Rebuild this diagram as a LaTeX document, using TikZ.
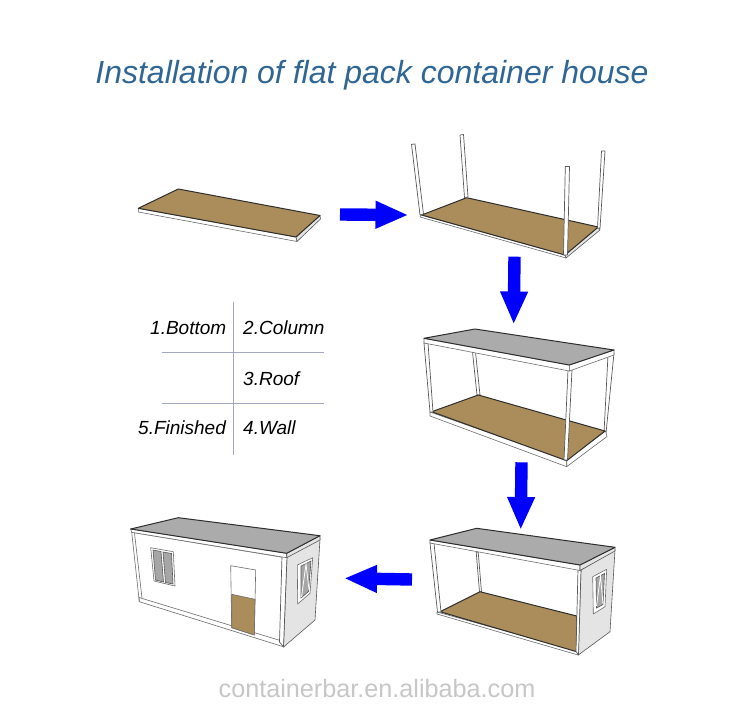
\documentclass[tikz,border=0pt]{standalone}
\usepackage{fontspec}
\setmainfont{Liberation Sans}
\usepackage{xcolor}
\usetikzlibrary{arrows.meta}
\definecolor{woodcol}{HTML}{AB8D5B}
\definecolor{roofcol}{HTML}{ABABAB}
\definecolor{sidecol}{HTML}{E4E4E4}
\definecolor{edgecol}{HTML}{2E2E2E}
\definecolor{gridcol}{HTML}{A3A8C0}
\definecolor{titlecol}{HTML}{2F6695}
\begin{document}
\begin{tikzpicture}[x=1pt, y=-1pt,
  wood/.style={fill=woodcol, draw=edgecol, line width=1pt, line join=round},
  roof/.style={fill=roofcol, draw=edgecol, line width=1pt, line join=round},
  frame/.style={fill=white, draw=edgecol!70, line width=.6pt, line join=round},
  side/.style={fill=sidecol, draw=edgecol!80, line width=.6pt, line join=round},
  post/.style={fill=white, draw=edgecol!80, line width=.7pt, line join=round},
  glass/.style={fill=gray!70, draw=edgecol!80, line width=.6pt},
  gridline/.style={draw=gridcol, line width=1.2pt},
  bigarrow/.style={draw=blue, line width=12.4pt, -{Triangle[length=33pt, width=25.5pt, fill=blue]}},
  legend/.style={anchor=base west, font=\fontsize{19}{22}\selectfont\itshape, text=black, inner sep=0pt}]
\useasboundingbox (0,0) rectangle (750,706);
\fill[white] (0,0) rectangle (750,706);
\node[anchor=base, font=\fontsize{32}{36}\selectfont\itshape, text=titlecol, inner sep=0pt] (title) at (372,84) {Installation of flat pack container house};
\node[anchor=base, font=\fontsize{25.2}{28}\selectfont, text=black!22, inner sep=0pt] (site) at (377,697) {containerbar.en.alibaba.com};

% bottom panel
\draw[frame] (138.3,208.3) -- (138.3,212) -- (297,241.5) -- (296,237) -- cycle;
\draw[side] (296,237) -- (297,241.5) -- (320.5,219) -- (320,215.5) -- cycle;
\draw[wood] (178.3,189) -- (320,215.5) -- (296,237) -- (138.3,208.3) -- cycle;

% panel with columns
\draw[frame] (421,215) -- (420,217) -- (566,258) -- (565,255) -- cycle;
\draw[side] (565,255) -- (566,258) -- (600,230) -- (598.3,227) -- cycle;
\draw[wood] (466.7,197.7) -- (598.3,227) -- (565,255) -- (421.7,215) -- cycle;
\draw[post] (411.5,144.3) -- (415,144) -- (423.5,214) -- (420,215) -- cycle;
\draw[post] (460,135) -- (463.5,134.5) -- (468,197) -- (464.5,197.5) -- cycle;
\draw[post] (565.3,166.5) -- (569.5,166.5) -- (567.5,255) -- (563.5,255) -- cycle;
\draw[post] (601.5,151) -- (605,151) -- (600,228.5) -- (597.5,228) -- cycle;

% frame with roof
\draw[post] (472.5,352) -- (475.5,352) -- (480,395) -- (477,395) -- cycle;
\draw[post] (608,355) -- (614,353) -- (606,433) -- (604,433) -- cycle;
\draw[frame] (430,412) -- (430,416) -- (566.7,466.7) -- (566.7,460) -- cycle;
\draw[frame] (566.7,460) -- (566.7,466.7) -- (607,436.5) -- (605.5,431) -- cycle;
\draw[wood] (478.3,395) -- (605,431) -- (566.7,460.7) -- (431.7,411.7) -- cycle;
\draw[post] (424,343) -- (428,343) -- (433,412) -- (430,412) -- cycle;
\draw[post] (568,370) -- (572,370) -- (567.5,460) -- (564,460) -- cycle;
\draw[frame] (424,338.3) -- (424,343) -- (569.3,371) -- (569.3,365) -- cycle;
\draw[frame] (569.3,365) -- (569.3,371) -- (614,355) -- (614,350) -- cycle;
\draw[roof] (475,329) -- (614,350) -- (569.3,365) -- (424,338.3) -- cycle;

% frame with side wall
\draw[post] (476.2,552) -- (478.2,552) -- (481.5,592) -- (479.5,592) -- cycle;
\draw[frame] (437,612) -- (437,614) -- (578,655) -- (578,651) -- cycle;
\draw[wood] (480,591.7) -- (576.7,616) -- (576.7,651.7) -- (440,611.7) -- cycle;
\draw[post] (430,543) -- (434,543) -- (441,612) -- (437.5,612) -- cycle;
\draw[side] (581,570) -- (615,550) -- (610,631.7) -- (578.3,655) -- cycle;
\draw[post] (578,569) -- (581,569) -- (578.5,655) -- (576,651.5) -- cycle;
\draw[frame] (430,540) -- (430,543) -- (580,570.5) -- (580,565) -- cycle;
\draw[side] (580,565) -- (580,570.5) -- (615,551) -- (615,547.3) -- cycle;
\draw[roof] (476.7,528.3) -- (615,547.3) -- (580,565) -- (430,540) -- cycle;
\draw[frame] (592.7,576.7) -- (606.7,569.3) -- (605,606.7) -- (593.3,614) -- cycle;
\draw[glass] (596,578) -- (604.5,573.5) -- (603,604.5) -- (596.5,608) -- cycle;
\draw[white, line width=.8pt] (596.5,606) -- (600.5,576) -- (603,604);

% finished house
\draw[frame] (131.7,532.3) -- (285,557.7) -- (283.3,646.7) -- (139.3,601.7) -- cycle;
\draw[edgecol!70, line width=.6pt] (139.3,601.7) -- (139,597.5) -- (283.5,641.5);
\draw[edgecol!70, line width=.6pt] (134.5,533) -- (142,598);
\draw[side] (287,556) -- (320,539) -- (315,620) -- (283.5,647) -- cycle;
\draw[post] (282,556) -- (287,556) -- (283.5,647) -- (279.5,642) -- cycle;
\draw[frame] (130.7,529) -- (131.7,532.3) -- (286.7,557.7) -- (286.7,553.3) -- cycle;
\draw[side] (286.7,553.3) -- (286.7,557.7) -- (320,540) -- (320,535.7) -- cycle;
\draw[roof] (178.3,517.7) -- (320,535.7) -- (286.7,553.3) -- (130.7,529) -- cycle;
\draw[frame] (150.7,547.7) -- (173.3,551.7) -- (175,586) -- (154,581) -- cycle;
\draw[glass] (153,550) -- (161,551.5) -- (163.5,582) -- (155.5,580) -- cycle;
\draw[glass] (163,552) -- (171.5,553.5) -- (173,584) -- (165.5,582.5) -- cycle;
\draw[frame] (230.7,565.7) -- (255.7,570) -- (254.3,635) -- (231.7,627.7) -- cycle;
\draw[wood, draw=edgecol!70, line width=.6pt] (231.7,594.3) -- (255,599.3) -- (254.3,635) -- (231.7,627.7) -- cycle;
\draw[frame] (297.3,565) -- (312.7,557.7) -- (310,593.3) -- (297.7,604) -- cycle;
\draw[glass] (301,566) -- (311,561) -- (308.5,591.5) -- (301,598) -- cycle;
\draw[white, line width=.8pt] (301.5,597) -- (306,564) -- (309,590);

% legend
\draw[gridline] (233.3,301.7) -- (233.3,455);
\draw[gridline] (161.7,352.7) -- (324.3,352.7);
\draw[gridline] (161.7,403.7) -- (324.3,403.7);
\node[legend] (bottom) at (150,334.5) {1.Bottom};
\node[legend] (column) at (243,334.5) {2.Column};
\node[legend] (rooftxt) at (243,385.5) {3.Roof};
\node[legend] (wall) at (243,434) {4.Wall};
\node[legend] (finished) at (138,434.5) {5.Finished};

\coordinate (a1s) at (340,214.5);
\coordinate (a1e) at (408.5,215);
\coordinate (a2s) at (514.5,256.7);
\coordinate (a2e) at (513.7,324.5);
\coordinate (a3s) at (521.5,462.3);
\coordinate (a3e) at (520.7,530);
\coordinate (a4s) at (412,579.5);
\coordinate (a4e) at (344,578.3);
\draw[bigarrow] (a1s) -- (a1e);
\draw[bigarrow] (a2s) -- (a2e);
\draw[bigarrow] (a3s) -- (a3e);
\draw[bigarrow] (a4s) -- (a4e);
\end{tikzpicture}
\end{document}
